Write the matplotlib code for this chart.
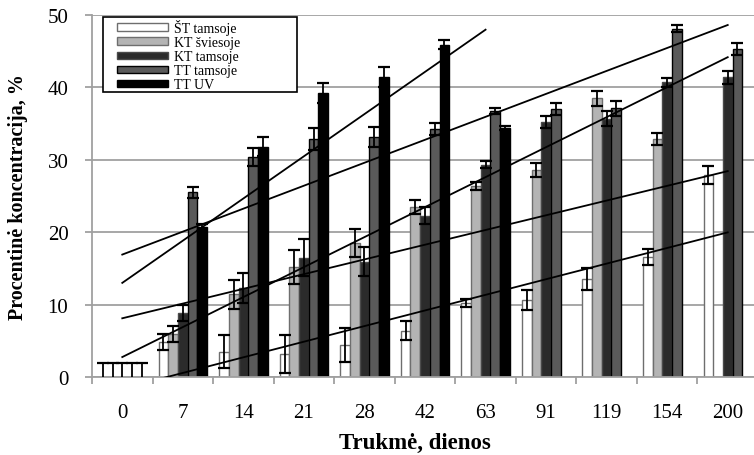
import numpy as np
import matplotlib.pyplot as plt
from matplotlib.patches import Rectangle

plt.rcParams["font.family"] = ["Liberation Serif", "DejaVu Serif"]

# category labels (days)
days = ["0", "7", "14", "21", "28", "42", "63", "91", "119", "154", "200"]
series_names = ["ŠT tamsoje", "KT šviesoje", "KT tamsoje", "TT tamsoje", "TT UV"]

nan = np.nan
st_tamsoje = [0, 4.8, 3.5, 3.2, 4.4, 6.4, 10.2, 10.6, 13.5, 16.6, 27.9]
st_tamsoje_err = [2, 1.1, 2.3, 2.6, 2.3, 1.35, 0.6, 1.4, 1.55, 1.1, 1.2]
kt_sviesoje = [0, 6.0, 11.4, 15.2, 18.5, 23.5, 26.4, 28.6, 38.5, 32.9, 0]
kt_sviesoje_err = [2, 1.1, 2.0, 2.3, 1.9, 1.0, 0.6, 1.0, 1.0, 0.8, nan]
kt_tamsoje = [0, 8.8, 12.3, 16.5, 15.9, 22.3, 29.3, 35.2, 35.7, 40.7, 41.4]
kt_tamsoje_err = [2, 1.1, 2.1, 2.5, 2.0, 1.2, 0.5, 0.8, 1.0, 0.6, 0.9]
tt_tamsoje = [0, 25.5, 30.4, 32.9, 33.1, 34.3, 36.7, 37.0, 37.1, 48.1, 45.3]
tt_tamsoje_err = [2, 0.75, 1.2, 1.5, 1.4, 0.85, 0.4, 0.8, 1.0, 0.5, 0.8]
tt_uv = [0, 20.7, 31.8, 39.2, 41.4, 45.9, 34.4, nan, nan, nan, nan]
tt_uv_err = [2, 0.5, 1.3, 1.4, 1.4, 0.6, 0.3, nan, nan, nan, nan]

values = [st_tamsoje, kt_sviesoje, kt_tamsoje, tt_tamsoje, tt_uv]
errors = [st_tamsoje_err, kt_sviesoje_err, kt_tamsoje_err, tt_tamsoje_err, tt_uv_err]
faces = ["white", "#b4b4b4", "#2b2b2b", "#5a5a5a", "black"]
edges = ["#6e6e6e", "#6e6e6e", "#4a4a4a", "black", "black"]

fig = plt.figure(figsize=(7.54, 4.56), dpi=100)
ax = fig.add_axes([92 / 754, 78 / 456, 666 / 754, 362 / 456])

x = np.arange(len(days))
w = 0.16
for k in range(5):
    v = np.array(values[k], dtype=float)
    e = np.array(errors[k], dtype=float)
    pos = x + (k - 2) * w
    # zero-height bars are not drawn (only their error bars)
    hv = np.where(v > 0, v, nan)
    ax.bar(pos, hv, width=w, color=faces[k], edgecolor=edges[k], linewidth=1,
           label=series_names[k], zorder=2)
    ax.errorbar(pos, v, yerr=e, fmt="none", ecolor="black", elinewidth=1.3,
                capsize=4, capthick=1.6, zorder=3)

# linear trendlines
for k in range(5):
    v = np.array(values[k], dtype=float)
    ok = ~np.isnan(v)
    xs = x[ok]
    b, a = np.polyfit(xs, v[ok], 1)
    xl = np.array([xs.min(), xs.max()])
    ax.plot(xl, a + b * xl, color="black", linewidth=1.3, zorder=4)

ax.set_xlim(-0.5, 10.5)
ax.set_ylim(0, 50)
ax.set_yticks(np.arange(0, 51, 10))
ax.yaxis.grid(True, color="#a0a0a0", linewidth=1.3, zorder=0)
ax.set_axisbelow(True)
ax.set_xticks(x)
ax.set_xticklabels(days)
ax.set_xticks(np.arange(-0.5, 10.6, 1), minor=True)
ax.tick_params(axis="x", which="major", length=0, pad=19, labelsize=15)
ax.tick_params(axis="x", which="minor", length=5, color="#a0a0a0", width=1.3)
ax.tick_params(axis="y", length=5, color="#a0a0a0", width=1.3, pad=12, labelsize=15)
for s in ["top", "right"]:
    ax.spines[s].set_visible(False)
for s in ["left", "bottom"]:
    ax.spines[s].set_color("#a0a0a0")
    ax.spines[s].set_linewidth(1.3)

ax.set_xlabel("Trukmė, dienos", fontsize=16.5, fontweight="bold")
ax.xaxis.set_label_coords(323 / 666, -55 / 362)
ax.set_ylabel("Procentinė koncentracija, %", fontsize=14.5, fontweight="bold", labelpad=14)

# legend box
ax.add_patch(Rectangle((11 / 666, 285 / 362), 194 / 666, 75 / 362, transform=ax.transAxes,
                       facecolor="white", edgecolor="black", linewidth=1.2, zorder=5,
                       clip_on=False))
leg = ax.legend(loc="upper left", bbox_to_anchor=(25 / 666, 358 / 362), frameon=False,
                fontsize=10, handlelength=3.7, handleheight=0.45, labelspacing=0.08,
                handletextpad=0.4, borderpad=0, borderaxespad=0)
leg.set_zorder(6)

fig.savefig("out.png", dpi=100)
